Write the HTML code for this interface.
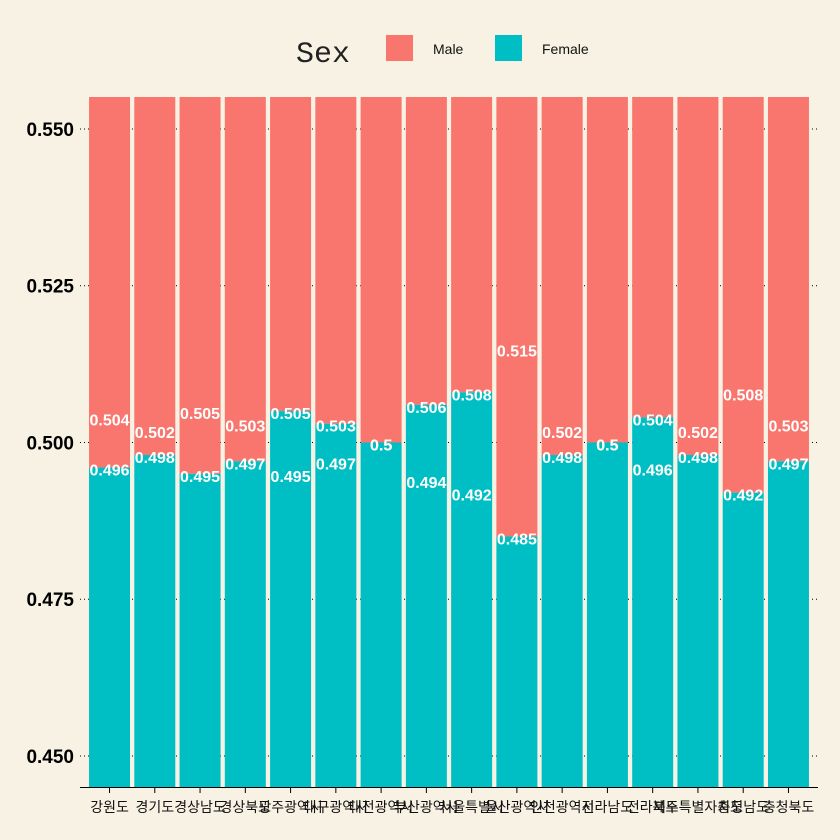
<!DOCTYPE html>
<html><head><meta charset="utf-8"><style>
body{margin:0;background:#f8f2e4;}
svg{display:block;font-family:"Liberation Sans","Noto Sans CJK KR",sans-serif;}
</style></head><body>
<svg id="chart" width="840" height="840" viewBox="0 0 840 840">
<rect x="0" y="0" width="840" height="840" fill="#f8f2e4"/>
<g id="grid"></g><g id="bars"></g><g id="labels"></g><g id="axes"></g>
<g>
<text x="296" y="62" style="font-family:'Liberation Mono',monospace;font-size:30px" fill="#222">Sex</text>
<rect x="386" y="35" width="27" height="26" fill="#f8766d"/>
<text x="433" y="54" font-size="14" fill="#111">Male</text>
<rect x="495" y="35" width="27" height="26" fill="#00bfc4"/>
<text x="542" y="54" font-size="14" fill="#111">Female</text>
</g>
</svg>
<script>
const categories=["강원도","경기도","경상남도","경상북도","광주광역시","대구광역시","대전광역시","부산광역시","서울특별시","울산광역시","인천광역시","전라남도","전라북도","제주특별자치도","충청남도","충청북도"];
const femaleLabels=[0.496,0.498,0.495,0.497,0.495,0.497,0.5,0.494,0.492,0.485,0.498,0.5,0.496,0.498,0.492,0.497];
const maleLabels=[0.504,0.502,0.505,0.503,0.505,0.503,0.5,0.506,0.508,0.515,0.502,0.5,0.504,0.502,0.508,0.503];
const femaleStack=[0.496,0.498,0.495,0.497,0.505,0.503,0.5,0.506,0.508,0.485,0.498,0.5,0.504,0.498,0.492,0.497];
const yTicks=[0.450,0.475,0.500,0.525,0.550];
const yMin=0.44505,yMax=0.5551,plotTop=97,plotBottom=787,plotLeft=86.9,plotRight=811.1;
const ns="http://www.w3.org/2000/svg";
function yScale(v){return plotBottom-(v-yMin)/(yMax-yMin)*(plotBottom-plotTop);}
const slot=(plotRight-plotLeft)/categories.length,bw=41;
function xc(i){return plotLeft+slot*i+slot/2;}
function mk(tag,attrs,parent,txt){const e=document.createElementNS(ns,tag);for(const k in attrs)e.setAttribute(k,attrs[k]);if(txt!=null)e.textContent=txt;parent.appendChild(e);return e;}
const grid=document.getElementById('grid'),bars=document.getElementById('bars'),labels=document.getElementById('labels'),axes=document.getElementById('axes');
yTicks.forEach(t=>{
 const l=mk('line',{x1:80,x2:818,y1:yScale(t),y2:yScale(t),stroke:'#000','stroke-width':1,'stroke-dasharray':'1 3'},grid);
 
 
 const tx=mk('text',{x:74,y:yScale(t)+7,'text-anchor':'end','font-size':19,'font-weight':'bold',fill:'#000',style:"font-family:'Liberation Sans Narrow','Liberation Sans',sans-serif"},axes,t.toFixed(3));
 
 
});
categories.forEach((c,i)=>{
 const x0=xc(i)-bw/2;
 const m=mk('rect',{x:x0,y:yScale(yMax),width:bw,height:yScale(femaleStack[i])-yScale(yMax),fill:'#f8766d'},bars);
 
 
 const f=mk('rect',{x:x0,y:yScale(femaleStack[i]),width:bw,height:plotBottom-yScale(femaleStack[i]),fill:'#00bfc4'},bars);
 
 
 const ml=mk('text',{x:xc(i),y:yScale(maleLabels[i])+8,'text-anchor':'middle','font-size':16,'font-weight':'bold',fill:'#fff'},labels,String(maleLabels[i]));
 
 
 const fl=mk('text',{x:xc(i),y:yScale(femaleLabels[i])+8,'text-anchor':'middle','font-size':16,'font-weight':'bold',fill:'#fff'},labels,String(femaleLabels[i]));
 
 
 const tk=mk('line',{x1:xc(i),x2:xc(i),y1:plotBottom,y2:plotBottom+6,stroke:'#000'},axes);
 
 
 const xl=mk('text',{x:xc(i),y:812,'text-anchor':'middle','font-size':14,fill:'#111'},axes,c);
 
 
});
const ax=mk('line',{x1:80,x2:818,y1:plotBottom+0.5,y2:plotBottom+0.5,stroke:'#000','stroke-width':1},axes);


</script>
</body></html>
